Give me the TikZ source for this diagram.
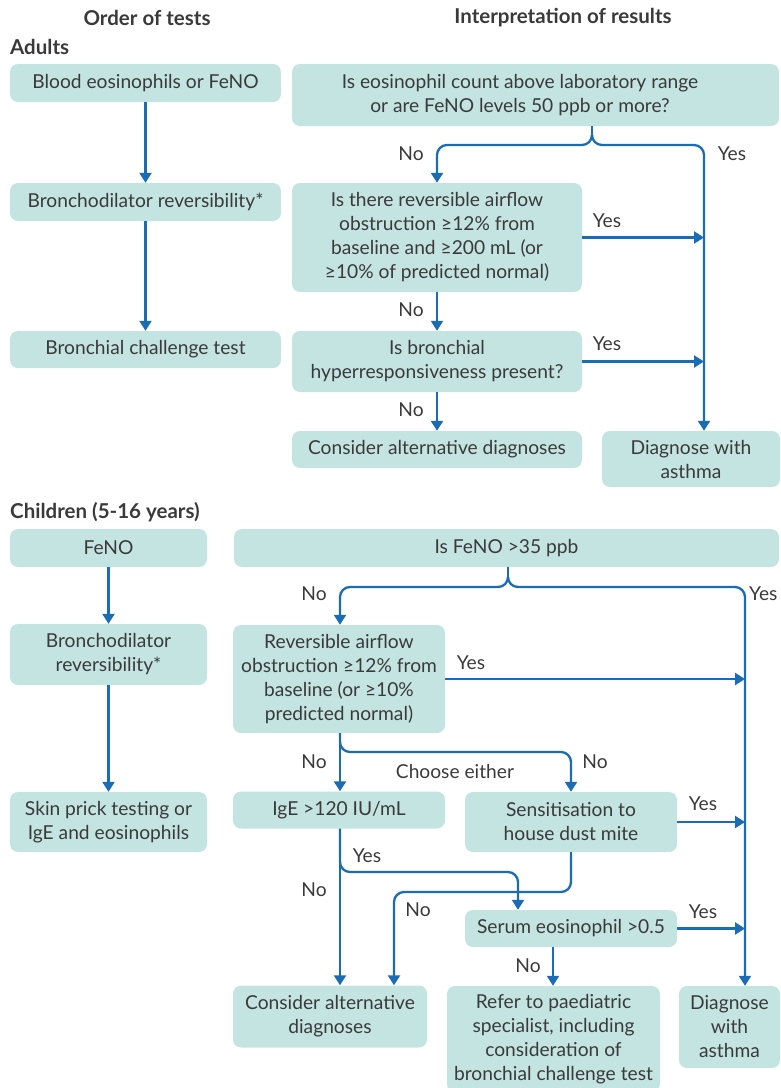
\documentclass[tikz,border=0pt]{standalone}
\usepackage{fontspec}
\setmainfont{Lato}
\usetikzlibrary{arrows.meta}
\definecolor{boxc}{HTML}{C4E4E2}
\definecolor{blu}{HTML}{1A6DB5}
\definecolor{txt}{HTML}{3A3A3A}
\begin{document}
\begin{tikzpicture}[x=1pt,y=-1pt,
  box/.style={rectangle, rounded corners=8pt, fill=boxc, align=center, inner sep=0pt, text=txt, font=\fontsize{19.2}{24}\selectfont},
  arr/.style={blu, line width=2.3pt, -{Triangle[length=10pt,width=12pt]}},
  ln/.style={blu, line width=2.3pt},
  lbl/.style={text=txt, inner sep=0pt, font=\fontsize{19.2}{24}\selectfont},
  hd/.style={text=txt, inner sep=0pt, font=\bfseries\fontsize{20.5}{22}\selectfont}]
\useasboundingbox (0,0) rectangle (780,1088);
% headings
\node[hd] (h1) at (147,18) {Order of tests};
\node[hd] (h2) at (563,18) {Interpretation of results};
\node[hd, anchor=west] (h3) at (10,47) {Adults};
\node[hd, anchor=west] (h4) at (10,512) {Children (5-16 years)};
% adults boxes
\node[box, minimum width=271pt, minimum height=38pt] (a1) at (145.5,83) {Blood eosinophils or FeNO};
\node[box, minimum width=271pt, minimum height=38pt] (a2) at (145.5,202) {Bronchodilator reversibility*};
\node[box, minimum width=271pt, minimum height=37pt] (a3) at (145.5,349.5) {Bronchial challenge test};
\node[box, minimum width=487pt, minimum height=62pt] (q1) at (535.5,95) {};
\node[lbl, align=center] (q1t) at (520,95) {Is eosinophil count above laboratory range\\or are FeNO levels 50 ppb or more?};
\node[box, minimum width=290pt, minimum height=109pt] (q2) at (437,237.5) {Is there reversible airflow\\obstruction ≥12\% from\\baseline and ≥200 mL (or\\≥10\% of predicted normal)};
\node[box, minimum width=290pt, minimum height=61pt] (q3) at (437,361.5) {Is bronchial\\hyperresponsiveness present?};
\node[box, minimum width=290pt, minimum height=37pt] (alt1) at (437,449.5) {Consider alternative diagnoses};
\node[box, minimum width=178pt, minimum height=56pt] (d1) at (691,459) {Diagnose with\\asthma};
% adults connectors
\draw[arr] (a1) -- (a2);
\draw[arr] (a2) -- (a3);
\coordinate (xA) at (592,145);
\coordinate (xL) at (437,145);
\coordinate (xR) at (704,145);
\draw[ln] (q1.south -| xA) -- ([yshift=10pt]xA);
\draw[ln] ([yshift=10pt]xA) to[out=-90,in=0] ([xshift=-10pt]xA);
\draw[ln] ([yshift=10pt]xA) to[out=-90,in=180] ([xshift=10pt]xA);
\draw[arr, rounded corners=10pt] ([xshift=-10pt]xA) -- (xL) -- (q2.north -| xL);
\draw[arr, rounded corners=10pt] ([xshift=10pt]xA) -- (xR) -- (d1.north -| xR);
\draw[arr] (q2.east) -- (q2.east -| xR);
\draw[arr] (q3.east) -- (q3.east -| xR);
\draw[arr] (q2.south) -- (q3.north);
\draw[arr] (q3.south) -- (alt1.north);
\node[lbl] (l1) at (411,154) {No};
\node[lbl] (l2) at (732,154) {Yes};
\node[lbl] (l3) at (607,221) {Yes};
\node[lbl] (l4) at (411,310) {No};
\node[lbl] (l5) at (607,344) {Yes};
\node[lbl] (l6) at (411,410) {No};
% children boxes
\node[box, minimum width=197pt, minimum height=38pt] (c1) at (108.5,548) {FeNO};
\node[box, minimum width=197pt, minimum height=61pt] (c2) at (108.5,654.5) {Bronchodilator\\reversibility*};
\node[box, minimum width=197pt, minimum height=60pt] (c3) at (108.5,822) {Skin prick testing or\\IgE and eosinophils};
\node[box, minimum width=545pt, minimum height=38pt] (k1) at (506.5,548) {Is FeNO >35 ppb};
\node[box, minimum width=212pt, minimum height=108pt] (k2) at (339,679) {Reversible airflow\\obstruction ≥12\% from\\baseline (or ≥10\%\\predicted normal)};
\node[box, minimum width=212pt, minimum height=37pt] (k3) at (339,810) {IgE >120 IU/mL};
\node[box, minimum width=212pt, minimum height=60pt] (k4) at (571,822) {Sensitisation to\\house dust mite};
\node[box, minimum width=212pt, minimum height=37pt] (k5) at (571,928.5) {Serum eosinophil >0.5};
\node[box, minimum width=194pt, minimum height=62pt] (alt2) at (330,1016.5) {Consider alternative\\diagnoses};
\node[box, minimum width=213pt, minimum height=106pt] (ref) at (553.5,1039) {Refer to paediatric\\specialist, including\\consideration of\\bronchial challenge test};
\node[box, minimum width=101pt, minimum height=82pt] (d2) at (729.5,1027) {Diagnose\\with\\asthma};
% children connectors
\draw[arr] (c1) -- (c2);
\draw[arr] (c2) -- (c3);
\coordinate (yA) at (508,587);
\coordinate (yL) at (340,587);
\coordinate (yR) at (745,587);
\draw[ln] (k1.south -| yA) -- ([yshift=10pt]yA);
\draw[ln] ([yshift=10pt]yA) to[out=-90,in=0] ([xshift=-10pt]yA);
\draw[ln] ([yshift=10pt]yA) to[out=-90,in=180] ([xshift=10pt]yA);
\draw[arr, rounded corners=10pt] ([xshift=-10pt]yA) -- (yL) -- (k2.north -| yL);
\draw[arr, rounded corners=10pt] ([xshift=10pt]yA) -- (yR) -- (d2.north -| yR);
\draw[arr] (k2.east) -- (k2.east -| yR);
\draw[arr] (k4.east) -- (k4.east -| yR);
\draw[arr] (k5.east) -- (k5.east -| yR);
\coordinate (r1) at (340,752);
\coordinate (r2) at (518,872);
\coordinate (r3) at (394,892);
\coordinate (r4) at (553,940);
\draw[arr] (k2.south -| r1) -- (k3.north -| r1);
\draw[arr, rounded corners=10pt] (k2.south -| r1) -- (r1) -- (r1 -| k4.north) -- (k4.north);
\draw[arr] (k3.south -| r1) -- (alt2.north -| r1);
\draw[arr, rounded corners=10pt] (k3.south -| r1) -- (r1 |- r2) -- (r2) -- (k5.north -| r2);
\draw[arr, rounded corners=10pt] (k4.south) -- (k4.south |- r3) -- (r3) -- (alt2.north -| r3);
\draw[arr] (k5.south -| r4) -- (ref.north -| r4);
\node[lbl] (m1) at (314,594) {No};
\node[lbl, anchor=west] (m2) at (749,594) {Yes};
\node[lbl] (m3) at (471,663) {Yes};
\node[lbl] (m4) at (314,762) {No};
\node[lbl] (m5) at (595,762) {No};
\node[lbl] (m6) at (455,771) {Choose either};
\node[lbl] (m7) at (703,804) {Yes};
\node[lbl] (m8) at (367,856) {Yes};
\node[lbl] (m9) at (314,890) {No};
\node[lbl] (m10) at (418,910) {No};
\node[lbl] (m11) at (703,912) {Yes};
\node[lbl] (m12) at (528,966) {No};
\end{tikzpicture}
\end{document}
